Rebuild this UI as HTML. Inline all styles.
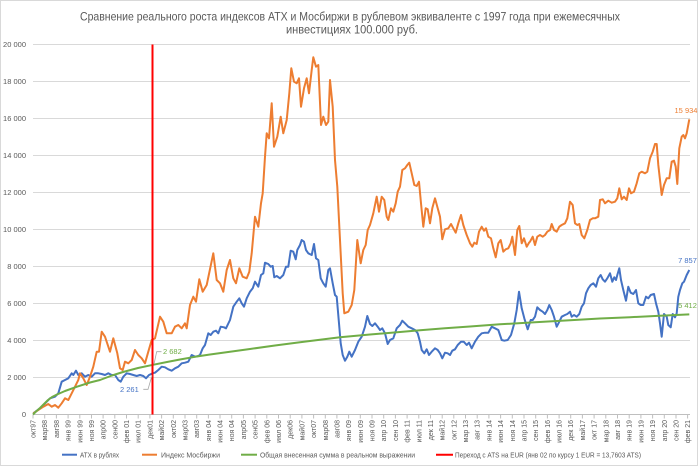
<!DOCTYPE html>
<html><head><meta charset="utf-8">
<style>
html,body{margin:0;padding:0;background:#fff;}
svg{display:block;font-family:"Liberation Sans","DejaVu Sans",sans-serif;}
.yl{font-size:7.5px;fill:#595959;text-anchor:end;}
.xl{font-size:7px;fill:#595959;text-anchor:end;}
.lg{font-size:7.5px;fill:#595959;}
</style></head><body>
<svg width="700" height="467" viewBox="0 0 700 467" xmlns="http://www.w3.org/2000/svg">
<rect x="0" y="0" width="700" height="467" fill="#fff"/>
<rect x="0.5" y="0.5" width="697" height="465" fill="none" stroke="#d9d9d9" stroke-width="1"/>
<text x="350" y="20.5" font-size="12" fill="#595959" text-anchor="middle" textLength="540" lengthAdjust="spacingAndGlyphs">Сравнение реального роста индексов ATX и Мосбиржи в рублевом эквиваленте с 1997 года при ежемесячных</text>
<text x="352" y="33.5" font-size="12" fill="#595959" text-anchor="middle" textLength="132" lengthAdjust="spacingAndGlyphs">инвестициях 100.000 руб.</text>
<g stroke="#d9d9d9" stroke-width="1">
<line x1="33" x2="690" y1="44.5" y2="44.5"/><line x1="33" x2="690" y1="81.5" y2="81.5"/><line x1="33" x2="690" y1="118.5" y2="118.5"/><line x1="33" x2="690" y1="155.5" y2="155.5"/><line x1="33" x2="690" y1="192.5" y2="192.5"/><line x1="33" x2="690" y1="229.5" y2="229.5"/><line x1="33" x2="690" y1="266.5" y2="266.5"/><line x1="33" x2="690" y1="303.5" y2="303.5"/><line x1="33" x2="690" y1="340.5" y2="340.5"/><line x1="33" x2="690" y1="377.5" y2="377.5"/>
</g>
<line x1="33" x2="690" y1="414.5" y2="414.5" stroke="#bfbfbf" stroke-width="1"/>
<g class="yl">
<text x="26" y="47">20 000</text><text x="26" y="84">18 000</text><text x="26" y="121">16 000</text><text x="26" y="158">14 000</text><text x="26" y="195">12 000</text><text x="26" y="232">10 000</text><text x="26" y="269">8 000</text><text x="26" y="306">6 000</text><text x="26" y="343">4 000</text><text x="26" y="380">2 000</text><text x="26" y="417">0</text>
</g>
<g stroke="#bfbfbf" stroke-width="1">
<path d="M33 414.5v4M44.7 414.5v4M56.4 414.5v4M68.1 414.5v4M79.8 414.5v4M91.5 414.5v4M103.1 414.5v4M114.8 414.5v4M126.5 414.5v4M138.2 414.5v4M149.9 414.5v4M161.6 414.5v4M173.3 414.5v4M185 414.5v4M196.7 414.5v4M208.4 414.5v4M220 414.5v4M231.7 414.5v4M243.4 414.5v4M255.1 414.5v4M266.8 414.5v4M278.5 414.5v4M290.2 414.5v4M301.9 414.5v4M313.6 414.5v4M325.3 414.5v4M336.9 414.5v4M348.6 414.5v4M360.3 414.5v4M372 414.5v4M383.7 414.5v4M395.4 414.5v4M407.1 414.5v4M418.8 414.5v4M430.5 414.5v4M442.2 414.5v4M453.8 414.5v4M465.5 414.5v4M477.2 414.5v4M488.9 414.5v4M500.6 414.5v4M512.3 414.5v4M524 414.5v4M535.7 414.5v4M547.4 414.5v4M559.1 414.5v4M570.7 414.5v4M582.4 414.5v4M594.1 414.5v4M605.8 414.5v4M617.5 414.5v4M629.2 414.5v4M640.9 414.5v4M652.6 414.5v4M664.3 414.5v4M676 414.5v4M687.6 414.5v4"/>
</g>
<g class="xl">
<text transform="translate(35.5,420) rotate(-90)">окт97</text>
<text transform="translate(47.2,420) rotate(-90)">мар98</text>
<text transform="translate(58.9,420) rotate(-90)">авг98</text>
<text transform="translate(70.6,420) rotate(-90)">янв 99</text>
<text transform="translate(82.3,420) rotate(-90)">июн 99</text>
<text transform="translate(94,420) rotate(-90)">ноя 99</text>
<text transform="translate(105.6,420) rotate(-90)">апр00</text>
<text transform="translate(117.3,420) rotate(-90)">сен00</text>
<text transform="translate(129,420) rotate(-90)">фев 01</text>
<text transform="translate(140.7,420) rotate(-90)">июл 01</text>
<text transform="translate(152.4,420) rotate(-90)">дек01</text>
<text transform="translate(164.1,420) rotate(-90)">май02</text>
<text transform="translate(175.8,420) rotate(-90)">окт02</text>
<text transform="translate(187.5,420) rotate(-90)">мар03</text>
<text transform="translate(199.2,420) rotate(-90)">авг03</text>
<text transform="translate(210.9,420) rotate(-90)">янв 04</text>
<text transform="translate(222.5,420) rotate(-90)">июн 04</text>
<text transform="translate(234.2,420) rotate(-90)">ноя 04</text>
<text transform="translate(245.9,420) rotate(-90)">апр05</text>
<text transform="translate(257.6,420) rotate(-90)">сен05</text>
<text transform="translate(269.3,420) rotate(-90)">фев 06</text>
<text transform="translate(281,420) rotate(-90)">июл 06</text>
<text transform="translate(292.7,420) rotate(-90)">дек06</text>
<text transform="translate(304.4,420) rotate(-90)">май07</text>
<text transform="translate(316.1,420) rotate(-90)">окт07</text>
<text transform="translate(327.8,420) rotate(-90)">мар08</text>
<text transform="translate(339.4,420) rotate(-90)">авг08</text>
<text transform="translate(351.1,420) rotate(-90)">янв 09</text>
<text transform="translate(362.8,420) rotate(-90)">июн 09</text>
<text transform="translate(374.5,420) rotate(-90)">ноя 09</text>
<text transform="translate(386.2,420) rotate(-90)">апр 10</text>
<text transform="translate(397.9,420) rotate(-90)">сен 10</text>
<text transform="translate(409.6,420) rotate(-90)">фев 11</text>
<text transform="translate(421.3,420) rotate(-90)">июл 11</text>
<text transform="translate(433,420) rotate(-90)">дек 11</text>
<text transform="translate(444.7,420) rotate(-90)">май12</text>
<text transform="translate(456.3,420) rotate(-90)">окт 12</text>
<text transform="translate(468,420) rotate(-90)">мар 13</text>
<text transform="translate(479.7,420) rotate(-90)">авг 13</text>
<text transform="translate(491.4,420) rotate(-90)">янв 14</text>
<text transform="translate(503.1,420) rotate(-90)">июн 14</text>
<text transform="translate(514.8,420) rotate(-90)">ноя 14</text>
<text transform="translate(526.5,420) rotate(-90)">апр 15</text>
<text transform="translate(538.2,420) rotate(-90)">сен 15</text>
<text transform="translate(549.9,420) rotate(-90)">фев 16</text>
<text transform="translate(561.6,420) rotate(-90)">июл 16</text>
<text transform="translate(573.2,420) rotate(-90)">дек 16</text>
<text transform="translate(584.9,420) rotate(-90)">май17</text>
<text transform="translate(596.6,420) rotate(-90)">окт 17</text>
<text transform="translate(608.3,420) rotate(-90)">мар 18</text>
<text transform="translate(620,420) rotate(-90)">авг 18</text>
<text transform="translate(631.7,420) rotate(-90)">янв 19</text>
<text transform="translate(643.4,420) rotate(-90)">июн 19</text>
<text transform="translate(655.1,420) rotate(-90)">ноя 19</text>
<text transform="translate(666.8,420) rotate(-90)">апр 20</text>
<text transform="translate(678.5,420) rotate(-90)">сен 20</text>
<text transform="translate(690.1,420) rotate(-90)">фев 21</text>
</g>
<!-- ATX -->
<polyline fill="none" stroke="#4472c4" stroke-width="2" stroke-linejoin="round" points="33.3,413.3 40,408.3 46.7,401.7 50,398.3 55,396.7 58.3,393.3 61.7,381.7 65,380 68.3,378.3 71.7,373.3 73.3,375 76,370.7 78.3,375 81.7,373.3 85,376.7 88.3,375 91.7,376.7 95,373.3 98.3,373.3 101.7,374 105,375 108.3,373.3 111.7,375 115,375 118.3,380 120.7,381.7 123.3,376.7 126.7,373.3 130,374 133.3,375 136.7,376 140,375 143.3,376 146,378.3 149,375 152.7,373.3 155,372.7 158.3,370 161.7,366.7 165,367.3 168.3,369.3 171.7,370.7 175,368.3 178.3,366.7 181.7,363.3 185,362.7 188.3,361.7 191.7,355 195,356.7 198.3,356 200,355 202.7,348.3 205,345 208.3,333.3 210.7,335 213.3,331.7 216,330.7 218.3,333.3 220.7,326.7 224,327.3 226,328.3 230,320 233.3,306.7 236.7,301.7 239.3,298.3 241.7,303.3 244,306.7 246.7,298.3 250,291.7 252.7,288.3 255,281.7 258.3,286.7 261,275 263.3,273.3 265,262.7 268.3,264 270.7,266.7 272.7,266 274.3,277.3 276.7,276 280,278.3 283.3,275 286,266.7 288.3,266.7 290.7,250.7 293.3,251.7 295.7,259.3 297.3,250 300,245 301.7,240 304,241.7 306,250 308.3,253.3 311.7,255 314,244 316,258.3 318.3,260 320.7,278.3 323.3,283.3 325.7,286.7 328.3,270 330,268.3 332.7,283.3 335,295 336.7,296.7 339,323.3 340.7,343.3 342.7,355 345,360.7 347.3,356.7 349.3,351.7 351.7,356.7 355,350 358.3,341.7 361.7,336.7 365,326.7 367.3,316 370,324 372.3,326 375,323.3 377.7,326.7 380,330 382.3,328.3 385,333.3 387.7,344 390,340 393.3,338.3 396.7,328.3 400,325 402.3,320.7 405,323.3 408.3,326.7 411.7,328.3 415,330 417.7,333.3 420,341.7 421.7,350 424.3,353.3 426.7,349.3 429,355 431.7,351.7 435,348.3 437.7,350 440,353.3 442.3,358.3 445,352.7 447.7,353.3 450,355 452.3,350.7 455,349.3 457.7,345 461,341.7 463.7,341.7 466.7,345 469,342.7 471.7,348.3 475,341.7 478.3,336.7 481.7,333.3 485,332.7 488.3,332.7 491.7,326.7 495,328.3 498.3,330 501.7,340 504.3,340.7 507.7,340 511,335 514.3,323.3 516.7,310 519,291.7 521.7,308.3 524.3,318.3 527.7,329.3 530.7,320 532.7,320 535,316.7 537.3,307.3 540,310 542.7,311.7 545,314 547.3,310 549.3,305 551.7,310 554,316.7 556.7,326.7 559.3,321.7 561.7,316.7 565,315 567.3,314 570,311.7 571.7,316.7 574,315 576.7,316.7 579.3,314 581.7,306.7 584,303.3 586,293.3 588.3,288.3 590.7,285 593.3,283.3 596,286.7 598.3,278.3 600.7,275 602.7,279.3 605,281.7 607.3,278.3 610,273.3 612.3,281.7 614.3,277.3 616,280 617.3,275 619.3,268.3 621,280 623.3,290 626,300.7 628.3,286.7 630.7,292.7 633.3,294 636,290 638.3,303.3 640.7,305 643.3,305 646,296.7 648.3,298.3 650.7,295 654,294 656,303.3 658.3,311.7 660,323.3 661.7,336.7 664,314 666.7,316.7 668.3,325 670.7,327.3 672.7,314 675,317.3 676.7,313.3 678.3,296.7 680,290 682.3,283.3 684,281.7 686.7,275 689.3,270"/>
<!-- MOEX -->
<polyline fill="none" stroke="#ed7d31" stroke-width="2" stroke-linejoin="round" points="33.3,413.3 43.3,406.7 48.3,404 51.7,406.7 55,405 58.3,407.7 61.7,403.3 65,398.3 68.3,400 71.7,393.3 75,386.7 78.3,380 80,373.3 83.3,378.3 86.7,385 90,376.7 93.3,366.7 96.7,351.7 99,351.7 101.7,331.7 105,336.7 110,351.7 113.3,338.3 117.3,353.3 120,368.3 122.7,370 125,361.7 128.3,363.3 131.7,360 135,350 138.3,355 141.7,358.3 145,363.3 148.3,351.7 151.7,340 155,338.3 160,316.7 163.3,321.7 166.7,333.3 171.7,333.3 175,326.7 178.3,325 181.7,328.3 185,323.3 186.7,328.3 190,305 193.3,296.7 196,301.7 199.3,279.3 202.7,291.7 206.7,285 213.3,253.3 216.7,280 220,283.3 223.3,291.7 226.7,270 230,260 233.3,278.3 236,283.3 239.3,268.3 242.7,276.7 246.7,278.3 249.3,271.7 251.7,253.3 255,216.7 258.3,226.7 261,203.3 262.7,193.3 265,156.7 266.7,133.3 269,138.3 271.7,103.3 274,146.7 277.3,136.7 280.7,116.7 283.3,133.3 286.7,120 289.3,93.3 291.3,68.3 294,81.7 296.7,83.3 299,78.3 301,106.7 304,88.3 306.7,78.3 309,93.3 311.7,70 313.3,57.3 316,66.7 318.3,65 321,125 323.3,116.7 326,125 328.3,121.7 330,80 332.7,106.7 335,160 337.3,186.7 340,240 342.7,293.3 344.3,313.3 348.3,311.7 351.7,305 354.3,290 357.3,240 360.7,263.3 363.3,250 365.7,245 367.7,230 370,225 373.3,213.3 376.7,196.7 379,211.7 381.7,196.7 384.3,200 386.7,216.7 388.3,220 391,208.3 393.3,211.7 395.7,203.3 397.7,191.7 400,186.7 402.3,170 405,168.3 407.3,165 409.3,162.7 411.7,173.3 414.3,185 416.7,186 419,181.7 421,203.3 423.3,226.7 425.7,208.3 427.7,209.3 430,223.3 432.3,208.3 435,198.3 437.7,208.3 440,216.7 442.3,239.3 445,229.3 448.3,228.3 451,224 453.3,228.3 455.7,232.7 458.3,223.3 461,215 463.3,225 466.7,235 470,243.3 472.3,246.7 474.3,242.7 476.7,244 479,231.7 481.7,226.7 484,230.7 486,228.3 488.3,236.7 491,238.3 493.3,248.3 495.7,257.3 498.3,243.3 500.7,240 503.3,251.7 505.7,249.3 508.3,248.3 510.7,243.3 512.3,236.7 515,255 517.3,230 519.3,226 521.7,243.3 524,238.3 526.7,246.7 529,242.7 530,241.7 532.7,236.7 535,245 537.3,236.7 540,235 542.7,236.7 545,235 547.3,231.7 550,230 551.7,224 554,230 556.7,231.7 559.3,226.7 561.7,225 565,223.3 567.3,218.3 570,201.7 572.7,205 575,223.3 577.3,225 579.3,224 581.7,235 584.3,238.3 587.3,230 590,220 592.7,218.3 595,218.3 598.3,216.7 600,200 602.7,199.3 605,203.3 608.3,200.7 611.7,202.7 615,201.7 617.3,198.3 619.3,188.3 621.7,199.3 624,196.7 626.7,200 629,188.3 631,193.3 634,191.7 636.7,183.3 639.3,173.3 641.7,171.7 645,173.3 647.3,171.7 650,158.3 652.7,151.7 655,144 656.7,144 658.3,165 660,180 661.7,195 664,185 666.7,178.3 669.3,178.3 671.7,161.7 674,160.7 675.7,166.7 677.3,184 679.3,148.3 681.7,136.7 683.3,135 685,138.3 686.7,133.3 689.3,119.3"/>
<!-- Green cumulative -->
<polyline fill="none" stroke="#70ad47" stroke-width="2" stroke-linejoin="round" points="33,414.5 36,411.5 40,408 44,404 48,400 52,397 57,394.5 65,391 77,386.7 90,382.5 100,380 112,375.5 123,372 138,368 153,364.8 167,362 180,359.5 195,356.8 210,354.5 230,351.7 250,349 275,345.5 300,342.3 320,339.7 340,337.3 370,334.5 400,332 420,330.3 445,328.3 470,326.5 500,324.3 535,322.2 570,320.2 600,318.5 630,317.2 660,315.8 689.3,314.4"/>
<!-- Red -->
<line x1="152.5" x2="152.5" y1="44.5" y2="414.5" stroke="#ff0000" stroke-width="2"/>
<!-- data labels -->
<polyline fill="none" stroke="#a6a6a6" stroke-width="0.8" points="143.3,389.3 148,389.3 152,375.5"/>
<polyline fill="none" stroke="#a6a6a6" stroke-width="0.8" points="154,364 156.7,351.7 161.5,351.7"/>
<text x="120" y="392" font-size="7.5" fill="#4472c4">2 261</text>
<text x="163" y="354" font-size="7.5" fill="#70ad47">2 682</text>
<text x="686" y="113" font-size="7.5" fill="#ed7d31" text-anchor="middle">15 934</text>
<text x="687.5" y="263" font-size="7.5" fill="#4472c4" text-anchor="middle">7 857</text>
<text x="687.5" y="308" font-size="7.5" fill="#70ad47" text-anchor="middle">5 412</text>
<!-- legend -->
<line x1="62" x2="77" y1="454.7" y2="454.7" stroke="#4472c4" stroke-width="2"/>
<text class="lg" x="80" y="457.5" textLength="39" lengthAdjust="spacingAndGlyphs">ATX в рублях</text>
<line x1="142" x2="157" y1="454.7" y2="454.7" stroke="#ed7d31" stroke-width="2"/>
<text class="lg" x="161" y="457.5" textLength="59" lengthAdjust="spacingAndGlyphs">Индекс Мосбиржи</text>
<line x1="241" x2="257" y1="454.7" y2="454.7" stroke="#70ad47" stroke-width="2"/>
<text class="lg" x="260" y="457.5" textLength="155" lengthAdjust="spacingAndGlyphs">Общая внесенная сумма в реальном выражении</text>
<line x1="436" x2="453" y1="454.7" y2="454.7" stroke="#ff0000" stroke-width="2"/>
<text class="lg" x="455" y="457.5" textLength="186" lengthAdjust="spacingAndGlyphs">Переход с ATS на EUR (янв 02 по курсу 1 EUR = 13,7603 ATS)</text>
</svg>
</body></html>
